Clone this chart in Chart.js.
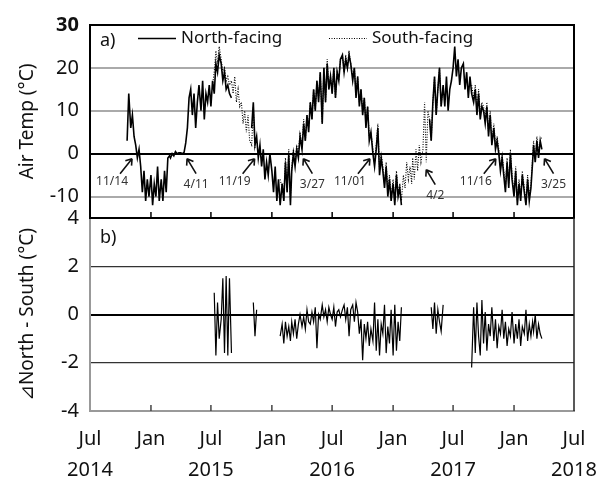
<!DOCTYPE html>
<html>
<head>
<meta charset="utf-8">
<script src="https://cdn.jsdelivr.net/npm/chart.js@4"></script>
<style>
  body { margin: 0; background: #fff; }
  canvas { display: block; }
</style>
</head>
<body>
<canvas id="myChart" width="609" height="481"></canvas>
<script>
var northStart = [2014, 10];
var northTemp = [
  null, null, null, null, 3, 14,        // Oct 2014
  6, 9, 4, 2, -1, 1,                    // Nov
  -3, -9, -4, -11, -6, -10,             // Dec
  -5, -12, -7, -10, -3, -11,            // Jan 2015
  -6, -11, -4, -9, -1, -0.5,            // Feb
  -1, 0, -0.5, 0.5, 0, 0.2,             // Mar
  0.2, 0, 0.3, 2.5, 6, 13,              // Apr
  15, 9, 14, 6, 12, 16,                 // May
  10, 17, 8, 14, 12, 16,                // Jun
  11, 17, 14, 21, 19, 23,               // Jul
  21, 17, 19, 15, 16, 14,               // Aug
  13, null, null, null, null, null,     // Sep
  null, null, null, null, null, null,   // Oct
  6, 12, 2, 4, -1, 2,                   // Nov
  -3, 1, -6, -2, -5, 0,                 // Dec
  -4, -9, -3, -11, -6, -12,             // Jan 2016
  -7, -11, -2, -9, 0, -12,              // Feb
  -4, 0, -3, 1, -1, 4,                  // Mar
  1, 7, 3, 9, 5, 12,                    // Apr
  8, 15, 10, 17, 12, 19,                // May
  7, 20, 12, 21, 15, 18,                // Jun
  14, 20, 13, 19, 17, 22,               // Jul
  23, 19, 22, 20, 23, 21,               // Aug
  17, 20, 13, 18, 11, 15,               // Sep
  9, 13, 6, 11, 3, 5,                   // Oct
  0, -3, 1, 6, -5, -1,                  // Nov
  -4, -8, -3, -10, -6, -11,             // Dec
  -7, -12, -5, -10, -8, -12,            // Jan 2017
  null, null, null, null, null, null,   // Feb
  null, null, null, null, null, null,   // Mar
  null, null, null, null, 8, 3,         // Apr
  12, 18, 9, 15, 20, 11,                // May
  16, 11, 18, 10, 15, 17,               // Jun
  20, 25, 18, 22, 16, 20,               // Jul
  21, 15, 19, 13, 18, 14,               // Aug
  12, 15, 9, 14, 8, 11,                 // Sep
  10, 7, 11, 4, 9, 2,                   // Oct
  6, 1, 3, 0, -4, -1,                   // Nov
  -5, -9, -2, -8, 0, -6,                // Dec
  -10, -4, -12, -7, -11, -5,            // Jan 2018
  -9, -12, -6, -11, -8, -2,             // Feb
  2, -2, 3, -1, 3, 1                    // Mar
];

var southStart = [2015, 7];
var southTemp = [
  null, 16, 19, 24, 21, 25,             // Jul 2015
  22, 19, 20, 17, 18, 16,               // Aug
  17, 14, 18, 12, 15, 11,               // Sep
  12, 7, 10, 5, 9, 3,                   // Oct
  2, 11, 1, null, null, null,           // Nov
  null, null, null, null, null, null,   // Dec
  null, null, null, null, null, -6,     // Jan 2016
  -8, -10, -1, -9, 1, -11,              // Feb
  -3, 1, -2, 2, 0, 5,                   // Mar
  2, 8, 3, 9, 6, 12,                    // Apr
  8, 15, 10, 17, 13, 19,                // May
  7, 20, 12, 22, 15, 18,                // Jun
  14, 20, 13, 19, 17, 22,               // Jul
  23, 19, 23, 20, 24, 21,               // Aug
  18, 20, 14, 18, 12, 15,               // Sep
  10, 13, 7, 11, 4, 5,                  // Oct
  1, -2, 2, 7, -4, 0,                   // Nov
  -3, -7, -2, -9, -5, -10,              // Dec
  -6, -11, -4, -9, -7, -11,             // Jan 2017
  -5, -8, -2, -6, -3, -7,               // Feb
  -1, -6, 1, -4, 2, -2,                 // Mar
  1, 12, -2, 10, 8, 3,                  // Apr
  12, 18, 9, 15, 20, 11,                // May
  16, null, null, null, null, null,     // Jun
  null, null, null, null, null, null,   // Jul
  null, null, null, null, null, 16,     // Aug
  13, 16, 10, 15, 9, 12,                // Sep
  11, 8, 12, 5, 10, 3,                  // Oct
  7, 2, 4, 1, -3, 0,                    // Nov
  -4, -8, -1, -7, 1, -5,                // Dec
  -9, -3, -11, -6, -10, -4,             // Jan 2018
  -8, -11, -5, -10, -7, -1,             // Feb
  3, -2, 4, 0, 3, 4                     // Mar
];

var diffStart = [2015, 7];
var diffNS = [
  null, null, 0.9, -1.7, 0.5, -1,       // Jul 2015
  -0.2, 1.5, -1.6, 1.6, -1.7, 1.5,      // Aug
  -1.6, null, null, null, null, null,   // Sep
  null, null, null, null, null, null,   // Oct
  null, 0.5, -0.9, 0.2, null, null,     // Nov
  null, null, null, null, null, null,   // Dec
  null, null, null, null, null, -0.9,   // Jan 2016
  -0.4, -1.2, -0.3, -0.9, -0.5, -1.1,   // Feb
  -0.3, -0.8, -0.2, -1.0, -0.4, 0,      // Mar
  -0.5, -0.1, -0.6, 0.2, -0.3, -0.4,    // Apr
  0.1, -0.3, 0.3, -1.4, 0, -0.2,        // May
  0.4, -0.1, 0.2, -0.3, 0.3, 0,         // Jun
  -0.2, 0.3, -0.5, 0.1, 0.2, -0.1,      // Jul
  0.2, 0.4, -0.2, 0.3, -0.9, 0.2,       // Aug
  0.4, -0.3, 0.5, 0.1, -0.8, -0.2,      // Sep
  -1.9, -0.4, -1.0, -0.3, -1.3, -0.6,   // Oct
  -1.1, 0.5, -1.5, -0.2, -1.7, -0.4,    // Nov
  -0.8, 0.4, -1.6, -0.5, -1.2, 0.2,     // Dec
  -1.7, 0.4, -1.5, -0.3, -1.1, 0.3,     // Jan 2017
  null, null, null, null, null, null,   // Feb
  null, null, null, null, null, null,   // Mar
  null, null, null, null, null, 0.3,    // Apr
  -0.6, 0.5, -0.8, 0.2, -0.3, -0.7,     // May
  0.4, null, null, null, null, null,    // Jun
  null, null, null, null, null, null,   // Jul
  null, null, null, null, null, -2.2,   // Aug
  0.3, -1.6, 0.5, -0.9, -1.7, 0.6,      // Sep
  -1.2, 0.1, -1.5, -0.4, -0.9, 0.3,     // Oct
  -1.1, -0.2, -1.4, -0.5, -0.8, 0.2,    // Nov
  -1.0, -0.3, -1.3, -0.6, -0.9, 0.1,    // Dec
  -1.2, -0.4, -1.0, -0.2, -1.3, -0.5,   // Jan 2018
  -0.8, 0.2, -1.1, -0.4, -0.9, -0.3,    // Feb
  -0.7, 0, -1.0, -0.4, -0.8, -1.0       // Mar
];

var tickDates = ['2014-07-01', '2015-01-01', '2015-07-01', '2016-01-01', '2016-07-01',
                 '2017-01-01', '2017-07-01', '2018-01-01', '2018-07-01'];
var tickMonths = ['Jul', 'Jan', 'Jul', 'Jan', 'Jul', 'Jan', 'Jul', 'Jan', 'Jul'];
var tickYears = ['2014', '', '2015', '', '2016', '', '2017', '', '2018'];

// snow cover start / end marks on the 0 line
var snowDates = ['2014-11-14', '2015-04-11', '2015-11-19', '2016-03-27',
                 '2016-11-01', '2017-04-02', '2017-11-16', '2018-03-25'];
var snowLabels = ['11/14', '4/11', '11/19', '3/27', '11/01', '4/2', '11/16', '3/25'];
var snowKind = ['start', 'end', 'start', 'end', 'start', 'end', 'start', 'end'];

var DAY0 = Date.UTC(2014, 6, 1);
function dayNum(str) {
  var p = str.split('-');
  return (Date.UTC(+p[0], +p[1] - 1, +p[2]) - DAY0) / 864e5;
}
function toPoints(start, values) {
  return values.map(function (v, i) {
    var m = start[1] - 1 + Math.floor(i / 6);
    var d = 1 + 5 * (i % 6);
    return { x: (Date.UTC(start[0], m, d) - DAY0) / 864e5, y: v };
  });
}

var FONT = "'Noto Sans', 'DejaVu Sans', sans-serif";

var decor = {
  id: 'decor',
  afterDraw: function (chart) {
    var ctx = chart.ctx, a = chart.chartArea;
    var x = chart.scales.x, yt = chart.scales.yt, yb = chart.scales.yb;
    ctx.save();

    // frames
    ctx.strokeStyle = '#000';
    ctx.lineWidth = 2;
    ctx.strokeRect(a.left, yt.top, a.right - a.left, yt.bottom - yt.top);
    ctx.strokeStyle = '#222';
    ctx.lineWidth = 1.5;
    ctx.beginPath();
    ctx.moveTo(a.right, yb.top);
    ctx.lineTo(a.right, yb.bottom);
    ctx.stroke();

    // inward ticks on both panels
    x.ticks.forEach(function (t, i) {
      if (i === 0 || i === x.ticks.length - 1) return;
      var px = x.getPixelForValue(t.value);
      ctx.lineWidth = 1.5;
      ctx.strokeStyle = '#000';
      ctx.beginPath();
      ctx.moveTo(px, yt.bottom);
      ctx.lineTo(px, yt.bottom - 6);
      ctx.stroke();
      ctx.strokeStyle = '#444';
      ctx.beginPath();
      ctx.moveTo(px, yb.bottom);
      ctx.lineTo(px, yb.bottom - 6);
      ctx.stroke();
    });

    // legend
    var ly = yt.top + 13.5;
    ctx.font = '17px ' + FONT;
    ctx.fillStyle = '#111';
    ctx.textBaseline = 'middle';
    ctx.textAlign = 'left';
    chart.data.datasets.slice(0, 2).forEach(function (ds, i) {
      var lx = a.left + (i === 0 ? 48 : 239);
      ctx.strokeStyle = ds.borderColor;
      ctx.lineWidth = i === 0 ? 1.5 : 1.2;
      ctx.setLineDash(ds.borderDash || []);
      ctx.beginPath();
      ctx.moveTo(lx, ly);
      ctx.lineTo(lx + 38, ly);
      ctx.stroke();
      ctx.setLineDash([]);
      ctx.fillText(ds.label, lx + 43, ly);
    });

    // panel letters
    ctx.font = '18px ' + FONT;
    ctx.fillText('a)', a.left + 10, yt.top + 16);
    ctx.fillText('b)', a.left + 10, yb.top + 20);

    // snow arrows
    var y0 = yt.getPixelForValue(0);
    var nudge = { '4/2': 11 };
    ctx.font = '12px ' + FONT;
    ctx.textAlign = 'center';
    snowDates.forEach(function (d, i) {
      var start = snowKind[i] === 'start';
      var drop = nudge[snowLabels[i]] || 0;
      var tx = x.getPixelForValue(dayNum(d)) + (start ? -3 : 3);
      var ty = y0 + 5 + drop;
      var sx = tx + (start ? -12 : 9);
      var sy = ty + 15;
      ctx.strokeStyle = '#111';
      ctx.lineWidth = 1.6;
      ctx.beginPath();
      ctx.moveTo(sx, sy);
      ctx.lineTo(tx, ty);
      var ang = Math.atan2(sy - ty, sx - tx);
      [-0.6, 0.6].forEach(function (da) {
        ctx.moveTo(tx, ty);
        ctx.lineTo(tx + 7 * Math.cos(ang + da), ty + 7 * Math.sin(ang + da));
      });
      ctx.stroke();
      ctx.fillStyle = '#333';
      ctx.fillText(snowLabels[i], tx + (start ? -20 : 9), ty + (start ? 23 : 26));
    });

    ctx.restore();
  }
};

function gridOpts(strong, strongWidth, weakColor, weakWidth, hidden) {
  return {
    drawTicks: false,
    color: function (c) {
      var v = c.tick ? c.tick.value : null;
      if (hidden.indexOf(v) >= 0) return 'rgba(0,0,0,0)';
      return strong.indexOf(v) >= 0 ? '#000' : weakColor;
    },
    lineWidth: function (c) {
      var v = c.tick ? c.tick.value : null;
      return strong.indexOf(v) >= 0 ? strongWidth : weakWidth;
    }
  };
}

var ctx = document.getElementById('myChart').getContext('2d');
var myChart = new Chart(ctx, {
  type: 'line',
  data: {
    datasets: [
      {
        label: 'North-facing',
        data: toPoints(northStart, northTemp),
        yAxisID: 'yt',
        borderColor: '#000',
        borderWidth: 1.6,
        pointRadius: 0,
        spanGaps: false
      },
      {
        label: 'South-facing',
        data: toPoints(southStart, southTemp),
        yAxisID: 'yt',
        borderColor: '#000',
        borderWidth: 1.1,
        borderDash: [1, 1.5],
        pointRadius: 0,
        spanGaps: false
      },
      {
        label: 'North - South',
        data: toPoints(diffStart, diffNS),
        yAxisID: 'yb',
        borderColor: '#000',
        borderWidth: 1.2,
        pointRadius: 0,
        spanGaps: false
      }
    ]
  },
  options: {
    responsive: false,
    animation: false,
    devicePixelRatio: 1,
    layout: { padding: { top: 25, right: 35, bottom: 0, left: 0 } },
    plugins: {
      legend: { display: false },
      tooltip: { enabled: false }
    },
    scales: {
      x: {
        type: 'linear',
        min: 0,
        max: dayNum('2018-07-01'),
        afterBuildTicks: function (s) {
          s.ticks = tickDates.map(function (d) { return { value: dayNum(d) }; });
        },
        afterFit: function (s) { s.height = 70; },
        ticks: {
          autoSkip: false,
          maxRotation: 0,
          padding: 5,
          color: '#111',
          font: { family: FONT, size: 20, lineHeight: 1.55 },
          callback: function (v, i) { return [tickMonths[i], tickYears[i]]; }
        },
        grid: { display: false },
        border: { color: '#999', width: 2 }
      },
      yb: {
        type: 'linear',
        position: 'left',
        stack: 'panels',
        stackWeight: 1,
        min: -4,
        max: 4,
        afterFit: function (s) { s.width = 90; },
        ticks: { stepSize: 2, padding: 11, color: '#111', font: { family: FONT, size: 20 } },
        grid: gridOpts([0, 4], 2, '#333', 1.2, [-4]),
        border: { color: '#999', width: 2 },
        title: {
          display: true,
          text: '⊿North - South (°C)',
          color: '#111',
          font: { family: FONT, size: 19 },
          padding: { top: 16, bottom: 0 }
        }
      },
      yt: {
        type: 'linear',
        position: 'left',
        stack: 'panels',
        stackWeight: 1,
        min: -15,
        max: 30,
        afterFit: function (s) { s.width = 90; },
        ticks: {
          stepSize: 10,
          includeBounds: false,
          padding: 11,
          color: '#111',
          font: function (c) {
            return { family: FONT, size: 20, weight: c.tick && c.tick.value === 30 ? 'bold' : 'normal' };
          }
        },
        grid: gridOpts([0, 30], 2, '#aaa', 2, []),
        border: { color: '#000', width: 2 },
        title: {
          display: true,
          text: 'Air Temp (°C)',
          color: '#111',
          font: { family: FONT, size: 19 },
          padding: { top: 16, bottom: 0 }
        }
      }
    }
  },
  plugins: [decor]
});
</script>
</body>
</html>
